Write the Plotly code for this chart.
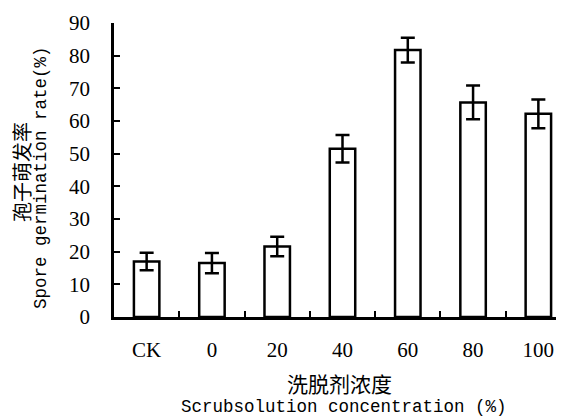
import plotly.graph_objects as go

categories = ["CK", "0", "20", "40", "60", "80", "100"]
germination_rate = [17.0, 16.5, 21.6, 51.5, 81.7, 65.7, 62.2]
error_sd = [2.7, 3.1, 3.0, 4.2, 3.8, 5.2, 4.4]

fig = go.Figure()
fig.add_trace(go.Bar(
    x=categories, y=germination_rate, width=0.39,
    marker=dict(color="white", line=dict(color="black", width=2.5)),
    error_y=dict(type="data", array=error_sd, visible=True, color="black",
                 thickness=2.5, width=7),
))

W, H = 564, 419
L, R, T, B = 106, 1, 15, 110
pw, ph = W - L - R, H - T - B

def px(x):
    return (x - L) / pw

def py(y):
    return (H - B - y) / ph

serif = "Liberation Serif, Times New Roman, serif"
mono = "Liberation Mono, Courier New, monospace"
cjk = "Noto Sans CJK SC"

fig.update_layout(
    width=W, height=H,
    margin=dict(l=L, r=R, t=T, b=B),
    paper_bgcolor="white", plot_bgcolor="white",
    showlegend=False,
    xaxis=dict(
        type="category", range=[-0.5, 6.5],
        showline=True, linecolor="black", linewidth=2.5,
        ticks="inside", tickson="boundaries", ticklen=6, tickwidth=2, tickcolor="black",
        showgrid=False, zeroline=False,
        tickfont=dict(family=serif, size=21, color="black"),
        ticklabelstandoff=12,
    ),
    yaxis=dict(
        range=[0, 90], tickvals=[0, 10, 20, 30, 40, 50, 60, 70, 80, 90],
        showline=True, linecolor="black", linewidth=2.5,
        ticks="inside", ticklen=6, tickwidth=2, tickcolor="black",
        showgrid=False, zeroline=False,
        tickfont=dict(family=serif, size=21, color="black"),
        ticklabelstandoff=17,
    ),
    annotations=[
        dict(text="孢子萌发率", x=px(13), y=py(164), xref="paper", yref="paper",
             textangle=-90, showarrow=False, xanchor="center", yanchor="middle",
             font=dict(family=cjk, size=20, color="black")),
        dict(text="Spore germination rate(%)", x=px(33), y=py(170), xref="paper", yref="paper",
             textangle=-90, showarrow=False, xanchor="center", yanchor="middle",
             font=dict(family=mono, size=17.5, color="black")),
        dict(text="洗脱剂浓度", x=px(331), y=py(375), xref="paper", yref="paper",
             showarrow=False, xanchor="center", yanchor="middle",
             font=dict(family=cjk, size=21, color="black")),
        dict(text="Scrubsolution concentration (%)", x=px(336), y=py(399), xref="paper", yref="paper",
             showarrow=False, xanchor="center", yanchor="middle",
             font=dict(family=mono, size=17.5, color="black")),
    ],
)

fig.write_html("out.html")
